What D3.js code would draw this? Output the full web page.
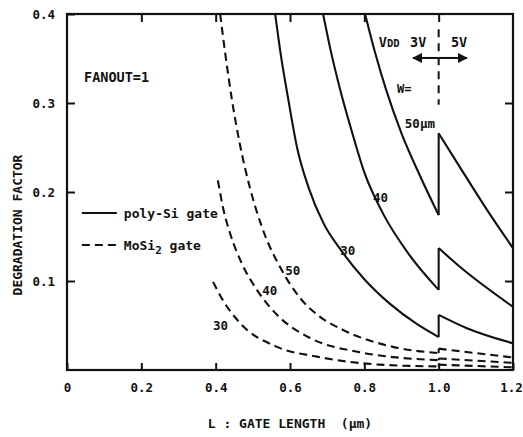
<!DOCTYPE html>
<html>
<head>
<meta charset="utf-8">
<script src="https://cdn.jsdelivr.net/npm/d3@7"></script>
<style>
  body { margin: 0; background: #fff; }
  svg text { font-family: "DejaVu Sans Mono", monospace; font-weight: bold; fill: #111; white-space: pre; }
</style>
</head>
<body>
<script>
// ---- data (L in um, degradation factor) ----
// poly-Si gate (solid), 3V part up to L = 1.0, then 5V part from 1.0 to 1.2
var poly30_3v = [[0.56,0.4],[0.575,0.355],[0.595,0.305],[0.62,0.248],[0.65,0.205],[0.69,0.165],[0.74,0.133],[0.8,0.102],[0.87,0.074],[0.94,0.052],[1.0,0.037]];
var poly30_5v = [[1.0,0.062],[1.076,0.047],[1.2,0.030]];
var poly40_3v = [[0.689,0.4],[0.71,0.358],[0.735,0.315],[0.765,0.27],[0.8,0.222],[0.85,0.176],[0.92,0.13],[1.0,0.09]];
var poly40_5v = [[1.0,0.137],[1.057,0.116],[1.2,0.071]];
var poly50_3v = [[0.802,0.4],[0.83,0.355],[0.86,0.313],[0.9,0.266],[0.95,0.218],[1.0,0.174]];
var poly50_5v = [[1.0,0.266],[1.057,0.228],[1.13,0.18],[1.2,0.137]];
// MoSi2 gate (dashed)
var mosi50_3v = [[0.412,0.4],[0.425,0.358],[0.444,0.303],[0.466,0.252],[0.492,0.205],[0.525,0.16],[0.578,0.112],[0.627,0.081],[0.68,0.06],[0.743,0.045],[0.877,0.026],[1.0,0.019]];
var mosi50_5v = [[1.0,0.024],[1.2,0.014]];
var mosi40_3v = [[0.406,0.213],[0.42,0.182],[0.44,0.152],[0.47,0.12],[0.511,0.09],[0.565,0.062],[0.654,0.036],[0.788,0.02],[1.0,0.011]];
var mosi40_5v = [[1.0,0.013],[1.2,0.008]];
var mosi30_3v = [[0.393,0.099],[0.42,0.078],[0.465,0.053],[0.565,0.026],[0.673,0.015],[0.842,0.006],[1.0,0.004]];
var mosi30_5v = [[1.0,0.006],[1.2,0.003]];

var x_ticks = [0, 0.2, 0.4, 0.6, 0.8, 1.0, 1.2];
var y_ticks = [0.1, 0.2, 0.3, 0.4];

// curve labels: [text, L, D]
var solid_labels = [['50\u03bcm', 0.909, 0.272], ['40', 0.823, 0.189], ['30', 0.735, 0.129]];
var dashed_labels = [['50', 0.587, 0.107], ['40', 0.525, 0.0843], ['30', 0.393, 0.045]];

var width = 523, height = 437;
var svg = d3.select('body').append('svg').attr('width', width).attr('height', height);

var x_scale = d3.scaleLinear().domain([0, 1.2]).range([67, 513]);
var y_scale = d3.scaleLinear().domain([0, 0.4]).range([370, 14]);

var line_scale = d3.line()
    .x(d => x_scale(d[0]))
    .y(d => y_scale(d[1]))
    .curve(d3.curveMonotoneX);

// curves
var solid = [[poly30_3v, poly30_5v], [poly40_3v, poly40_5v], [poly50_3v, poly50_5v]];
var dashed = [[mosi30_3v, mosi30_5v], [mosi40_3v, mosi40_5v], [mosi50_3v, mosi50_5v]];

function draw_series(list, dash)  {
    list.forEach(function(s)  {
        var g = svg.append('g').attr('fill', 'none').attr('stroke', '#111')
            .attr('stroke-width', 2.1).attr('stroke-dasharray', dash);
        g.append('path').attr('d', line_scale(s[0]));
        // jump at L = 1.0 from 3V to 5V
        var a = s[0][s[0].length-1], b = s[1][0];
        g.append('line').attr('x1', x_scale(a[0])).attr('y1', y_scale(a[1]))
            .attr('x2', x_scale(b[0])).attr('y2', y_scale(b[1]));
        g.append('path').attr('d', line_scale(s[1]));
    });
}
draw_series(solid, null);
draw_series(dashed, '8,5');

// frame
var frame = svg.append('g').attr('stroke', '#111').attr('fill', 'none');
frame.append('rect').attr('x', x_scale(0)).attr('y', y_scale(0.4))
    .attr('width', x_scale(1.2)-x_scale(0)).attr('height', y_scale(0)-y_scale(0.4))
    .attr('stroke-width', 2.2);

// axes with inward ticks
var fmt = d => d === 0 ? '0' : d.toFixed(1);
var xb = svg.append('g').attr('transform', 'translate(0,' + y_scale(0) + ')')
    .call(d3.axisBottom(x_scale).tickValues(x_ticks).tickSizeInner(-7).tickSizeOuter(0).tickPadding(13).tickFormat(fmt));
var xt = svg.append('g').attr('transform', 'translate(0,' + y_scale(0.4) + ')')
    .call(d3.axisTop(x_scale).tickValues([0.2, 0.4, 0.6, 0.8, 1.0]).tickSizeInner(-8).tickSizeOuter(0).tickFormat(''));
var yl = svg.append('g').attr('transform', 'translate(' + x_scale(0) + ',0)')
    .call(d3.axisLeft(y_scale).tickValues(y_ticks).tickSizeInner(-8).tickSizeOuter(0).tickPadding(12).tickFormat(d => d.toFixed(1)));
var yr = svg.append('g').attr('transform', 'translate(' + x_scale(1.2) + ',0)')
    .call(d3.axisRight(y_scale).tickValues([0.1, 0.2, 0.3]).tickSizeInner(-8).tickSizeOuter(0).tickFormat(''));
[xb, xt, yl, yr].forEach(function(a)  {
    a.select('.domain').remove();
    a.selectAll('.tick line').attr('stroke', '#111').attr('stroke-width', 2);
    a.selectAll('.tick text').style('font-size', '12.5px').attr('fill', '#111')
        .style('font-family', '"DejaVu Sans Mono", monospace');
});
// keep the last label inside the window, as in the picture
xb.selectAll('.tick text').filter(d => d === 1.2).attr('dx', -2);

// axis titles
svg.append('text').attr('x', 290).attr('y', 428).attr('text-anchor', 'middle')
    .style('font-size', '13px').text('L : GATE LENGTH  (\u03bcm)');
svg.append('text').attr('transform', 'translate(22,' + 225 + ') rotate(-90)')
    .attr('text-anchor', 'middle').style('font-size', '13px').text('DEGRADATION FACTOR');

// annotations
svg.append('text').attr('x', x_scale(0.046)).attr('y', y_scale(0.3236))
    .style('font-size', '13.5px').text('FANOUT=1');

var vdd = svg.append('text').attr('x', x_scale(0.839)).attr('y', y_scale(0.363)).style('font-size', '13.5px');
vdd.append('tspan').text('V');
vdd.append('tspan').style('font-size', '10.5px').text('DD');
svg.append('text').attr('x', x_scale(0.923)).attr('y', y_scale(0.363)).style('font-size', '13.5px').text('3V');
svg.append('text').attr('x', x_scale(1.033)).attr('y', y_scale(0.363)).style('font-size', '13.5px').text('5V');

// dashed marker line at L = 1.0 and the double arrow
svg.append('line').attr('x1', x_scale(1.0)).attr('x2', x_scale(1.0))
    .attr('y1', y_scale(0.383)).attr('y2', y_scale(0.298))
    .attr('stroke', '#111').attr('stroke-width', 2).attr('stroke-dasharray', '8,6');
var defs = svg.append('defs');
defs.append('marker').attr('id', 'arr').attr('viewBox', '0 0 10 10').attr('refX', 9).attr('refY', 5)
    .attr('markerWidth', 5).attr('markerHeight', 5).attr('orient', 'auto')
    .append('path').attr('d', 'M0,0 L10,5 L0,10 z').attr('fill', '#111');
[0.931, 1.076].forEach(function(end)  {
    svg.append('line').attr('x1', x_scale(1.0)).attr('x2', x_scale(end))
        .attr('y1', y_scale(0.3506)).attr('y2', y_scale(0.3506))
        .attr('stroke', '#111').attr('stroke-width', 2).attr('marker-end', 'url(#arr)');
});
svg.append('text').attr('x', x_scale(0.888)).attr('y', y_scale(0.311)).style('font-size', '12px').text('W=');

// curve labels
solid_labels.concat(dashed_labels).forEach(function(l)  {
    svg.append('text').attr('x', x_scale(l[1])).attr('y', y_scale(l[2]))
        .style('font-size', '12.5px').text(l[0]);
});

// legend
var legend = [['poly-Si gate', null, 0.1764], ['MoSi', '8,5', 0.1404]];
legend.forEach(function(d)  {
    svg.append('line').attr('x1', x_scale(0.04)).attr('x2', x_scale(0.134))
        .attr('y1', y_scale(d[2])).attr('y2', y_scale(d[2]))
        .attr('stroke', '#111').attr('stroke-width', 2.1).attr('stroke-dasharray', d[1]);
    var t = svg.append('text').attr('x', x_scale(0.153)).attr('y', y_scale(d[2]) + 5)
        .style('font-size', '13px');
    t.append('tspan').text(d[0]);
    if(d[0] == 'MoSi')  {
        t.append('tspan').attr('dy', 4).style('font-size', '11px').text('2');
        t.append('tspan').attr('dy', -4).text(' gate');
    }
});
</script>
</body>
</html>
